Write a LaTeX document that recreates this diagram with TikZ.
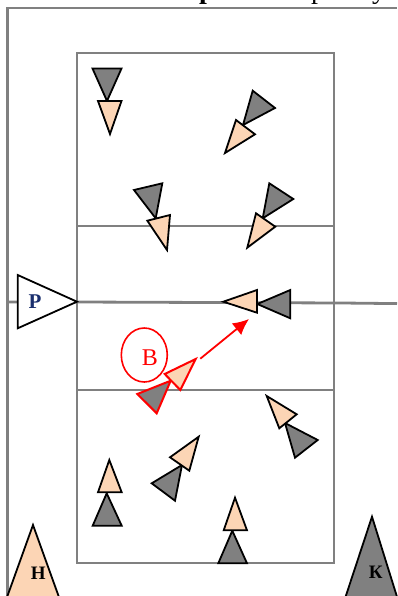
\documentclass[tikz,border=0pt]{standalone}
\usepackage{fontspec}
\setmainfont{Liberation Serif}
\usetikzlibrary{shapes.geometric, arrows.meta}

\definecolor{peach}{HTML}{FCD5B5}
\definecolor{midgray}{HTML}{808080}
\definecolor{navyp}{HTML}{1A2F6E}

\begin{document}
\begin{tikzpicture}[
    x=1pt, y=-1pt,
    >=latex,
    court/.style={draw=midgray, line width=2.8pt},
    dark/.style={draw=black, fill=midgray, line width=1.8pt, line join=miter},
    light/.style={draw=black, fill=peach, line width=1.8pt, line join=miter},
    darkred/.style={draw=red, fill=midgray, line width=2pt, line join=miter},
    lightred/.style={draw=red, fill=peach, line width=2pt, line join=miter},
    coach/.style={draw=black, fill=white, line width=1.8pt, line join=miter},
    move/.style={->, >={Latex[length=16pt,width=15pt]}, draw=red, line width=1.8pt},
    title/.style={font=\fontsize{28}{30}\selectfont, inner sep=0pt, anchor=base}
]
    \useasboundingbox (0,0) rectangle (397,596);

    %------------------------------------------------
    % title, cut off by the page
    %------------------------------------------------
    \node[title, font=\fontsize{28}{30}\selectfont\bfseries] (ttl1) at (207,-1.5) {р};
    \node[title] (ttl2) at (318,-1.5) {р};
    \node[title] (ttl3) at (379,-1.5) {у};

    %------------------------------------------------
    % field lines
    %------------------------------------------------
    \draw[court] (7.5,596) -- (7.5,8) -- (397,8);
    \draw[court] (77,53) rectangle (334,563);
    \draw[court] (77,226) -- (334,226);
    \draw[court] (77,390) -- (334,390);
    \draw[court] (7.5,302) -- (77,302) -- (342,303) -- (397,303.6);

    %------------------------------------------------
    % upper half
    %------------------------------------------------
    \draw[dark]  (92.5,68.5) -- (121.5,68.5) -- (107,101) -- cycle;
    \draw[light] (98,101) -- (121.5,101) -- (110,134) -- cycle;

    \draw[dark]  (252.7,90.7) -- (275,108) -- (243,125) -- cycle;
    \draw[light] (236,120) -- (255,134.3) -- (225,153) -- cycle;

    \draw[dark]  (134,190) -- (162.3,183.3) -- (155.7,218.3) -- cycle;
    \draw[light] (147.3,220.7) -- (170,215) -- (167,250) -- cycle;

    \draw[dark]  (269.3,183.3) -- (293.3,199) -- (262.7,218.3) -- cycle;
    \draw[light] (256,213.3) -- (275.3,226.7) -- (247.3,247.7) -- cycle;

    %------------------------------------------------
    % centre line and the marked pair
    %------------------------------------------------
    \draw[dark]  (257.3,304) -- (290.3,290) -- (290.3,318.3) -- cycle;
    \draw[light] (223.3,301.7) -- (257,290) -- (257,312.7) -- cycle;

    \draw[coach] (17.7,275) -- (77,301.7) -- (17.7,328.3) -- cycle;
    \node[font=\fontsize{21}{22}\selectfont\bfseries, text=navyp, inner sep=0pt] (ref) at (35,302) {Р};

    \draw[darkred]  (137.3,394) -- (170.7,380.7) -- (156.7,413.3) -- cycle;
    \draw[lightred] (164.7,374) -- (195.7,359) -- (180.3,390) -- cycle;

    \node[ellipse, draw=red, line width=1.6pt, minimum width=46pt, minimum height=54pt, inner sep=0pt] (ring) at (144.3,355) {};
    \node[font=\fontsize{24}{26}\selectfont, text=red, inner sep=0pt] (ringB) at (150,358) {В};

    \coordinate (movS) at (200.3,358.7);
    \coordinate (movE) at (249,319);
    \draw[move] (movS) -- (movE);

    %------------------------------------------------
    % lower half
    %------------------------------------------------
    \draw[dark]  (285,423) -- (317.7,440) -- (295,457.7) -- cycle;
    \draw[light] (266.7,396) -- (296.7,414.3) -- (279.3,428.3) -- cycle;

    \draw[dark]  (182,465) -- (151.7,483.3) -- (175,500.7) -- cycle;
    \draw[light] (198.7,436.7) -- (170,457.3) -- (189.3,470.7) -- cycle;

    \draw[dark]  (106.7,493.3) -- (121.7,525.7) -- (92.7,525.7) -- cycle;
    \draw[light] (109.3,460) -- (121.7,492.3) -- (98,492.3) -- cycle;

    \draw[dark]  (232.3,530.7) -- (247,563.3) -- (218.3,563.3) -- cycle;
    \draw[light] (235,497.7) -- (247,530.3) -- (223.7,530.3) -- cycle;

    %------------------------------------------------
    % big markers at the bottom
    %------------------------------------------------
    \draw[light] (33,525) -- (60,600) -- (6,600) -- cycle;
    \node[font=\fontsize{19}{20}\selectfont\bfseries, inner sep=0pt] (markH) at (38.3,573) {Н};

    \draw[dark] (372,516.7) -- (398,600) -- (344.5,600) -- cycle;
    \node[font=\fontsize{19}{20}\selectfont\bfseries, inner sep=0pt] (markK) at (375.7,572) {К};

\end{tikzpicture}
\end{document}
